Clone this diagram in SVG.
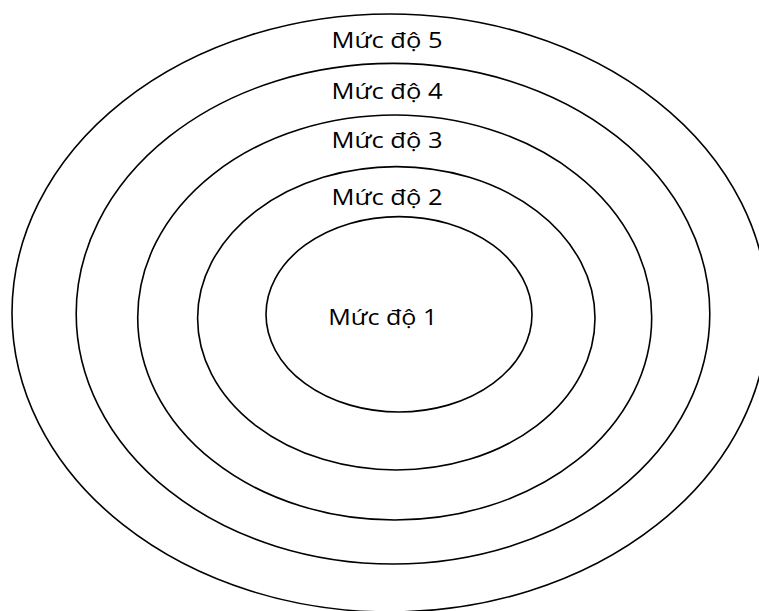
<svg xmlns="http://www.w3.org/2000/svg" width="759" height="611" viewBox="0 0 759 611">
<style>
.ring{fill:none;stroke:#000;stroke-width:1.6}
.lbl{font-family:"Open Sans","Liberation Sans",sans-serif;font-size:22px;fill:#000}
</style>
<rect width="759" height="611" fill="#fff"/>
<g id="level5"><ellipse class="ring" cx="390" cy="313" rx="378" ry="299"/><text class="lbl" x="331.5" y="48.3" textLength="111" lengthAdjust="spacingAndGlyphs">Mức độ 5</text></g>
<g id="level4"><ellipse class="ring" cx="393" cy="313.7" rx="316.8" ry="250.3"/><text class="lbl" x="331.5" y="99" textLength="111" lengthAdjust="spacingAndGlyphs">Mức độ 4</text></g>
<g id="level3"><ellipse class="ring" cx="394.7" cy="317.5" rx="257" ry="202.5"/><text class="lbl" x="331.5" y="148.3" textLength="111" lengthAdjust="spacingAndGlyphs">Mức độ 3</text></g>
<g id="level2"><ellipse class="ring" cx="396.3" cy="318.3" rx="198.7" ry="151.7"/><text class="lbl" x="331.5" y="205" textLength="111" lengthAdjust="spacingAndGlyphs">Mức độ 2</text></g>
<g id="level1"><ellipse class="ring" cx="399" cy="314.3" rx="133" ry="97.7"/><text class="lbl" x="328.3" y="325" textLength="109" lengthAdjust="spacingAndGlyphs">Mức độ 1</text></g>
<g id="connectors"/>
</svg>
